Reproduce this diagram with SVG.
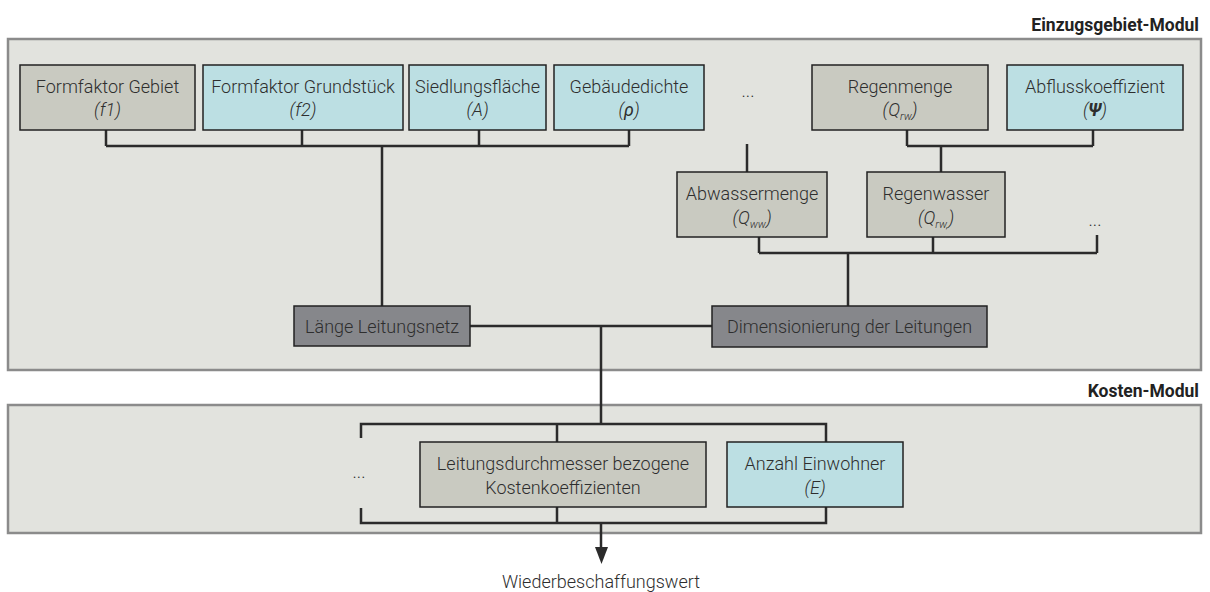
<svg xmlns="http://www.w3.org/2000/svg" width="1210" height="592" viewBox="0 0 1210 592">
<style>
.mod{fill:#e2e3de;stroke:#8b8b8b;stroke-width:2.5}
.g{fill:#c9cac1;stroke:#222;stroke-width:1.5}
.b{fill:#bcdfe3;stroke:#222;stroke-width:1.5}
.d{fill:#86878b;stroke:#222;stroke-width:1.5}
.t{font-family:Roboto,"Liberation Sans",sans-serif;font-weight:300;font-size:18px;fill:#2e2e2e;text-anchor:middle}
.i{font-style:italic}
.h{font-family:Roboto,"Liberation Sans",sans-serif;font-weight:700;font-size:17.5px;fill:#222;text-anchor:end}
.c{fill:none;stroke:#2b2b2b;stroke-width:2.5}
</style>
<rect class="mod" x="8" y="39" width="1193" height="331"/>
<rect class="mod" x="8" y="405" width="1193" height="128"/>
<text class="h" x="1199" y="31">Einzugsgebiet-Modul</text>
<text class="h" x="1199" y="397">Kosten-Modul</text>
<g id="connectors">
<path class="c" d="M106 130V146M302 130V146M479 130V146M629 130V146M106 146H629M382 146V306"/>
<path class="c" d="M907 130V146M1093 130V146M907 146H1093M941 146V172"/>
<path class="c" d="M747 144V172"/>
<path class="c" d="M759 237V253M933 237V253M1097 235V253M759 253H1097M848 253V306"/>
<path class="c" d="M470 326H712M601 326V424"/>
<path class="c" d="M361 438V424H826V442M557 424V442"/>
<path class="c" d="M361 508V523H826V507M557 507V523M601 523V550"/>
<polygon points="595,547 608,547 601.5,564" fill="#2b2b2b"/>
</g>
<g id="n-f1"><rect class="g" x="20" y="65" width="175" height="65"/><text class="t" x="107.5" y="93">Formfaktor Gebiet</text><text class="t i" x="107.5" y="116">(f1)</text></g>
<g id="n-f2"><rect class="b" x="203" y="65" width="200" height="65"/><text class="t" x="303" y="93">Formfaktor Grundstück</text><text class="t i" x="303" y="116">(f2)</text></g>
<g id="n-A"><rect class="b" x="409" y="65" width="137" height="65"/><text class="t" x="477.5" y="93">Siedlungsfläche</text><text class="t i" x="477.5" y="116">(A)</text></g>
<g id="n-rho"><rect class="b" x="554" y="65" width="150" height="65"/><text class="t" x="629" y="93">Gebäudedichte</text><text class="t i" x="629" y="116">(<tspan font-weight="400">ρ</tspan>)</text></g>
<g id="n-dots1"><text class="t" x="748" y="97">...</text></g>
<g id="n-Qrw"><rect class="g" x="812" y="65" width="176" height="65"/><text class="t" x="900" y="93">Regenmenge</text><text class="t i" x="900" y="116">(Q<tspan font-size="11" dy="4">rw</tspan><tspan dy="-4">)</tspan></text></g>
<g id="n-psi"><rect class="b" x="1007" y="65" width="176" height="65"/><text class="t" x="1095" y="93">Abflusskoeffizient</text><text class="t i" x="1095" y="116">(<tspan font-weight="700">Ψ</tspan>)</text></g>
<g id="n-Qww"><rect class="g" x="677" y="172" width="150" height="65"/><text class="t" x="752" y="200">Abwassermenge</text><text class="t i" x="752" y="224">(Q<tspan font-size="11" dy="4">ww</tspan><tspan dy="-4">)</tspan></text></g>
<g id="n-Qrw2"><rect class="g" x="867" y="172" width="138" height="65"/><text class="t" x="936" y="200">Regenwasser</text><text class="t i" x="936" y="224">(Q<tspan font-size="11" dy="4">rw,</tspan><tspan dy="-4">)</tspan></text></g>
<g id="n-dots2"><text class="t" x="1095" y="226">...</text></g>
<g id="n-laenge"><rect class="d" x="294" y="306" width="176" height="40"/><text class="t" x="382" y="333">Länge Leitungsnetz</text></g>
<g id="n-dim"><rect class="d" x="712" y="306" width="275" height="41"/><text class="t" x="849.5" y="333">Dimensionierung der Leitungen</text></g>
<g id="n-dots3"><text class="t" x="359" y="478">...</text></g>
<g id="n-kost"><rect class="g" x="420" y="442" width="286" height="65"/><text class="t" x="563" y="470">Leitungsdurchmesser bezogene</text><text class="t" x="563" y="494">Kostenkoeffizienten</text></g>
<g id="n-E"><rect class="b" x="727" y="442" width="176" height="65"/><text class="t" x="815" y="470">Anzahl Einwohner</text><text class="t i" x="815" y="494">(E)</text></g>
<g id="n-out"><text class="t" x="601" y="588">Wiederbeschaffungswert</text></g>
</svg>
